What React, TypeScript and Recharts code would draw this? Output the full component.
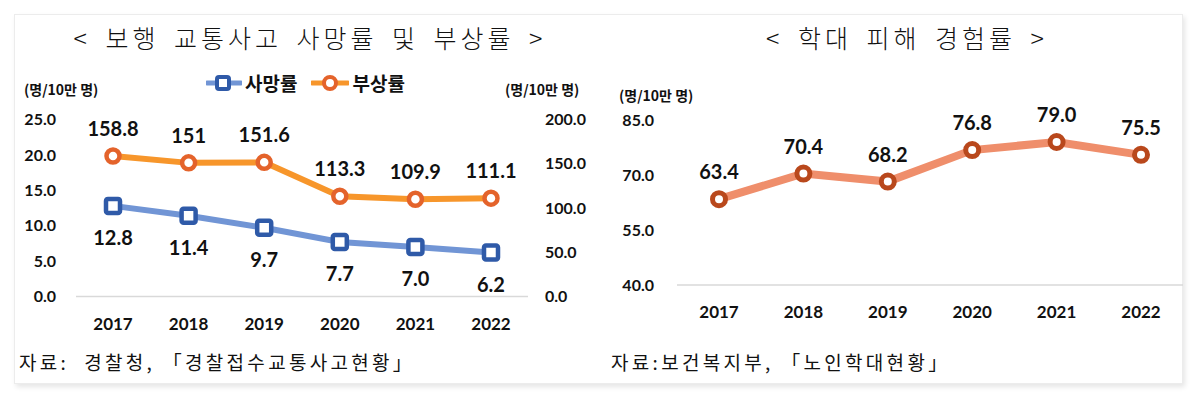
import { LineChart, Line, XAxis, YAxis, LabelList } from 'recharts';

const YEARS = ['2017', '2018', '2019', '2020', '2021', '2022'];
const DEATH_RATE = [12.8, 11.4, 9.7, 7.7, 7.0, 6.2];
const INJURY_RATE = [158.8, 151, 151.6, 113.3, 109.9, 111.1];
const ABUSE_RATE = [63.4, 70.4, 68.2, 76.8, 79.0, 75.5];
const DEATH_TICKS = [0, 5, 10, 15, 20, 25];
const INJURY_TICKS = [0, 50, 100, 150, 200];
const ABUSE_TICKS = [40, 55, 70, 85];

const BLUE_LINE = '#7195d5';
const BLUE_MARK = '#2f5aa8';
const ORANGE_LINE = '#f7962b';
const ORANGE_MARK = '#e4632b';
const SALMON_LINE = '#ef8e6b';
const SALMON_MARK = '#b9481c';

const KR = '"Noto Sans CJK KR", "Noto Sans", sans-serif';
const NUM = 'Lato, "Noto Sans", sans-serif';

const trafficData = YEARS.map((year, i) => ({
  year,
  death: DEATH_RATE[i],
  injury: INJURY_RATE[i],
}));
const abuseData = YEARS.map((year, i) => ({ year, abuse: ABUSE_RATE[i] }));

const tickStyle = { fill: '#111', fontSize: 16, fontWeight: 700, fontFamily: NUM };
const labelStyle = { fill: '#111', fontSize: 20, fontWeight: 700, fontFamily: NUM };

const squareDot = (props: any) => {
  const { cx, cy, index } = props;
  return (
    <rect
      key={`sq-${index}`}
      x={cx - 7}
      y={cy - 7}
      width={14}
      height={14}
      rx={2}
      fill="#fff"
      stroke={BLUE_MARK}
      strokeWidth={4.5}
    />
  );
};

const circleDot = (color: string, r: number, sw: number) => (props: any) => {
  const { cx, cy, index } = props;
  return <circle key={`c-${index}`} cx={cx} cy={cy} r={r} fill="#fff" stroke={color} strokeWidth={sw} />;
};

const TrafficLegend = () => (
  <div style={{ display: 'flex', alignItems: 'center', fontFamily: KR, fontWeight: 700, fontSize: 19, color: '#111' }}>
    <svg width={36} height={20}>
      <line x1={1} y1={10} x2={35} y2={10} stroke={BLUE_LINE} strokeWidth={5} strokeLinecap="round" />
      <rect x={11} y={4} width={12} height={12} rx={2} fill="#fff" stroke={BLUE_MARK} strokeWidth={4} />
    </svg>
    <span style={{ marginLeft: 3 }}>사망률</span>
    <svg width={38} height={20} style={{ marginLeft: 14 }}>
      <line x1={1} y1={10} x2={37} y2={10} stroke={ORANGE_LINE} strokeWidth={5} strokeLinecap="round" />
      <circle cx={19} cy={10} r={6} fill="#fff" stroke={ORANGE_MARK} strokeWidth={4} />
    </svg>
    <span style={{ marginLeft: 3 }}>부상률</span>
  </div>
);

const abs = (left: number, top: number, extra: any = {}) => ({
  position: 'absolute' as const,
  left,
  top,
  whiteSpace: 'nowrap' as const,
  ...extra,
});

const titleStyle = { fontFamily: KR, fontWeight: 300, fontSize: 25, letterSpacing: 4, wordSpacing: 5, color: '#111', lineHeight: '32px', textAlign: 'center' };
const unitStyle = { fontFamily: KR, fontWeight: 700, fontSize: 14, color: '#111', lineHeight: '20px' };
const sourceStyle = { fontFamily: KR, fontWeight: 400, fontSize: 19, color: '#111', lineHeight: '26px', letterSpacing: 3.3 };

export default function App() {
  return (
    <div style={{ position: 'absolute', left: 0, top: 0, width: 1197, height: 399, background: '#fff', overflow: 'hidden' }}>
      <div
        style={{
          position: 'absolute',
          left: 14,
          top: 14,
          width: 1167,
          height: 368,
          background: '#fff',
          border: '1px solid #ececec',
          boxShadow: '2px 3px 5px rgba(0,0,0,0.10)',
        }}
      />

      {/* titles */}
      <div style={abs(0, 21, { width: 620, ...titleStyle })}>&lt; 보행 교통사고 사망률 및 부상률 &gt;</div>
      <div style={abs(600, 21, { width: 614, ...titleStyle })}>&lt; 학대 피해 경험률 &gt;</div>

      {/* legend */}
      <div style={abs(206, 69)}>
        <TrafficLegend />
      </div>

      {/* unit labels */}
      <div style={abs(24, 79, unitStyle)}>(명/10만 명)</div>
      <div style={abs(505, 79, unitStyle)}>(명/10만 명)</div>
      <div style={abs(619, 85, unitStyle)}>(명/10만 명)</div>

      {/* sources */}
      <div style={abs(19, 349, sourceStyle)}>자료:&nbsp;&nbsp;경찰청, 「경찰접수교통사고현황」</div>
      <div style={abs(611, 349, sourceStyle)}>자료:보건복지부, 「노인학대현황」</div>

      {/* left chart */}
      <div style={abs(0, 0)}>
        <LineChart width={600} height={340} data={trafficData} margin={{ top: 119.5, right: 12, bottom: 13.5, left: 16 }}>
          <XAxis
            dataKey="year"
            height={30}
            padding={{ left: 37, right: 37 }}
            axisLine={{ stroke: '#d9d9d9', strokeWidth: 1.5 }}
            tickLine={false}
            tickSize={0}
            tickMargin={21}
            tick={{ ...tickStyle, fontSize: 17 }}
          />
          <YAxis
            yAxisId="left"
            width={60}
            domain={[0, 25]}
            ticks={DEATH_TICKS}
            tickFormatter={(v: number) => v.toFixed(1)}
            axisLine={false}
            tickLine={false}
            tickSize={0}
            tickMargin={20}
            tick={tickStyle}
          />
          <YAxis
            yAxisId="right"
            orientation="right"
            width={60}
            domain={[0, 200]}
            ticks={INJURY_TICKS}
            tickFormatter={(v: number) => v.toFixed(1)}
            axisLine={false}
            tickLine={false}
            tickSize={0}
            tickMargin={17}
            tick={tickStyle}
          />
          <Line
            yAxisId="left"
            dataKey="death"
            name="사망률"
            stroke={BLUE_LINE}
            strokeWidth={6}
            dot={squareDot}
            activeDot={false}
            isAnimationActive={false}
          >
            <LabelList dataKey="death" position="bottom" offset={25} formatter={(v: any) => Number(v).toFixed(1)} {...labelStyle} />
          </Line>
          <Line
            yAxisId="right"
            dataKey="injury"
            name="부상률"
            stroke={ORANGE_LINE}
            strokeWidth={6}
            dot={circleDot(ORANGE_MARK, 6.5, 4.5)}
            activeDot={false}
            isAnimationActive={false}
          >
            <LabelList dataKey="injury" position="top" offset={20} formatter={(v: any) => String(v)} {...labelStyle} />
          </Line>
        </LineChart>
      </div>

      {/* right chart */}
      <div style={abs(600, 0)}>
        <LineChart width={597} height={340} data={abuseData} margin={{ top: 120, right: 14, bottom: 25, left: 17 }}>
          <XAxis
            dataKey="year"
            height={30}
            padding={{ left: 42, right: 42 }}
            axisLine={{ stroke: '#d9d9d9', strokeWidth: 1.5 }}
            tickLine={false}
            tickSize={0}
            tickMargin={21}
            tick={{ ...tickStyle, fontSize: 17 }}
          />
          <YAxis
            width={60}
            domain={[40, 85]}
            ticks={ABUSE_TICKS}
            tickFormatter={(v: number) => v.toFixed(1)}
            axisLine={false}
            tickLine={false}
            tickSize={0}
            tickMargin={23}
            tick={tickStyle}
          />
          <Line
            dataKey="abuse"
            name="학대 피해 경험률"
            stroke={SALMON_LINE}
            strokeWidth={8}
            dot={circleDot(SALMON_MARK, 6.5, 5)}
            activeDot={false}
            isAnimationActive={false}
          >
            <LabelList dataKey="abuse" position="top" offset={20} formatter={(v: any) => Number(v).toFixed(1)} {...labelStyle} />
          </Line>
        </LineChart>
      </div>
    </div>
  );
}
